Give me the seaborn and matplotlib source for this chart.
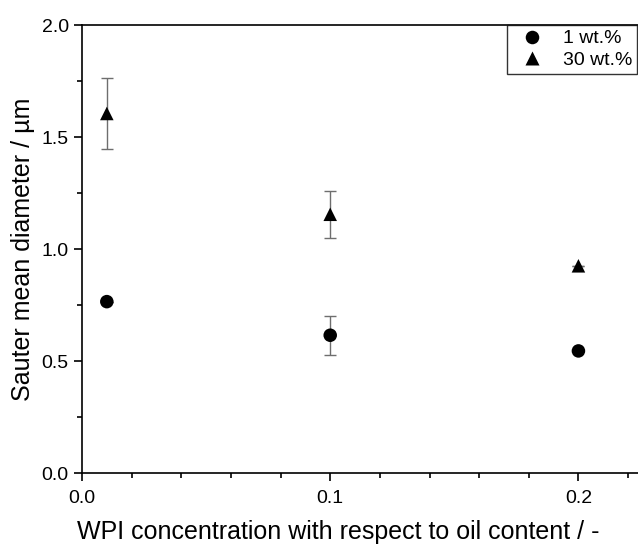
import numpy as np
import pandas as pd
import matplotlib
matplotlib.use("Agg")
import matplotlib.pyplot as plt
import seaborn as sns
from matplotlib.ticker import MultipleLocator, FormatStrFormatter

# WPI / oil ratio
wpi = [0.01, 0.1, 0.2]
# Sauter mean diameter, 1 wt.% oil
d_1 = [0.765, 0.615, 0.545]
err_1 = [0.0, 0.087, 0.0]
# Sauter mean diameter, 30 wt.% oil
d_30 = [1.605, 1.155, 0.925]
err_30 = [0.157, 0.105, 0.0]

df = pd.DataFrame({
    "wpi": wpi + wpi,
    "d32": d_1 + d_30,
    "oil": ["1 wt.%"] * 3 + ["30 wt.%"] * 3,
})

sns.set_style("ticks")
plt.rcParams["font.family"] = ["Liberation Sans", "DejaVu Sans"]
plt.rcParams["text.color"] = "black"
plt.rcParams["axes.labelcolor"] = "black"

fig = plt.figure(figsize=(6.38, 5.47), dpi=100)
ax = fig.add_axes([82/638, 74/547, 1 - 82/638, (473-25)/547])

ax.errorbar(wpi, d_1, yerr=err_1, fmt="none", ecolor="#6e6e6e",
            elinewidth=1, capsize=4.5, capthick=1, zorder=1)
ax.errorbar(wpi, d_30, yerr=err_30, fmt="none", ecolor="#6e6e6e",
            elinewidth=1, capsize=4.5, capthick=1, zorder=1)

sns.scatterplot(data=df, x="wpi", y="d32", style="oil",
                markers={"1 wt.%": "o", "30 wt.%": "^"},
                color="black", s=95, edgecolor="none", zorder=3, ax=ax)

ax.set_xlim(0, 0.224)
ax.set_ylim(0, 2.0)
ax.xaxis.set_major_locator(MultipleLocator(0.1))
ax.xaxis.set_minor_locator(MultipleLocator(0.02))
ax.yaxis.set_major_locator(MultipleLocator(0.5))
ax.yaxis.set_minor_locator(MultipleLocator(0.25))
ax.xaxis.set_major_formatter(FormatStrFormatter("%.1f"))
ax.yaxis.set_major_formatter(FormatStrFormatter("%.1f"))

ax.tick_params(which="major", direction="out", length=6, width=1.2,
               labelsize=14, colors="black")
ax.tick_params(axis="x", which="major", pad=6)
ax.tick_params(which="minor", direction="out", length=3.5, width=1.2, colors="black")
for s in ["left", "bottom", "top"]:
    ax.spines[s].set_linewidth(1.2)
    ax.spines[s].set_color("black")
ax.spines["right"].set_visible(False)

ax.set_xlabel("WPI concentration with respect to oil content / -", fontsize=18)
ax.xaxis.set_label_coords(0.46, -0.105)
ax.set_ylabel("Sauter mean diameter / µm", fontsize=18, labelpad=5)

leg = ax.legend(loc="upper left", bbox_to_anchor=(0.765, 1.0), fontsize=14,
                frameon=True, fancybox=False, edgecolor="black",
                handletextpad=0.6, borderpad=0.25, labelspacing=0.2,
                borderaxespad=0)
leg.get_frame().set_linewidth(1.0)
leg.set_title(None)

fig.savefig("out.png", dpi=100)
